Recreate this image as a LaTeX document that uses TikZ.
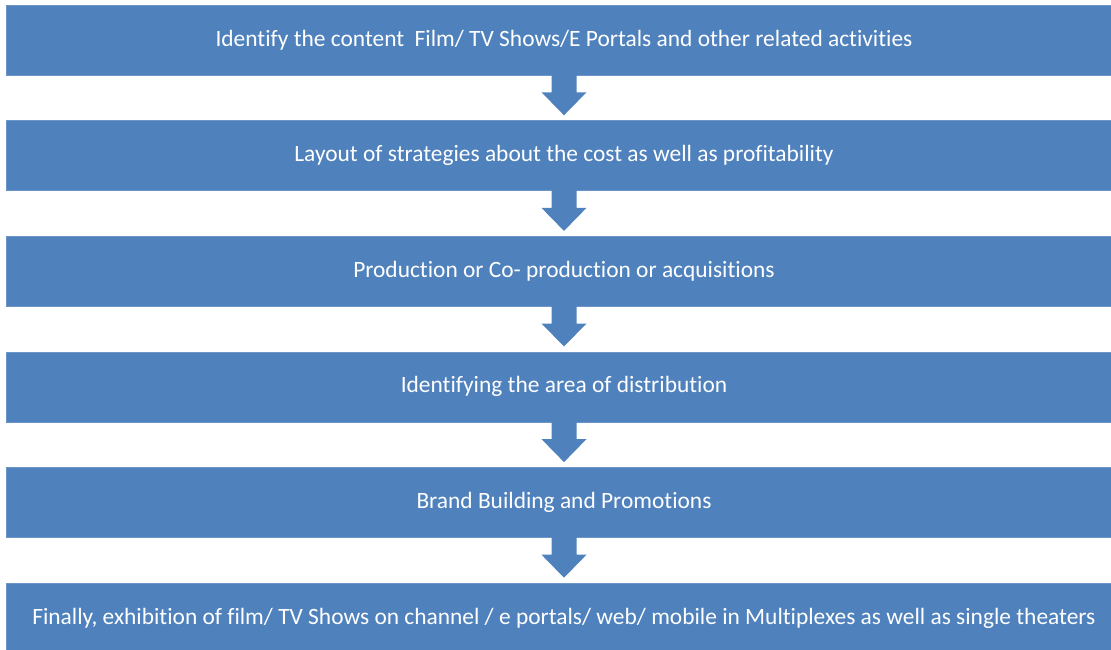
\documentclass[tikz,border=0pt]{standalone}
\usepackage{fontspec}
\setmainfont{Carlito}[Ligatures={NoCommon}]
\usepackage{xcolor}
\usepackage{tikz}
\usetikzlibrary{calc}

\definecolor{stageblue}{HTML}{4F81BD}
\definecolor{stageedge}{HTML}{6D96C8}

\tikzset{
	stagebox/.style = {rectangle, fill = stageblue, draw = stageedge, line width = 0.6bp,
		minimum width = 1116bp, minimum height = 70bp, inner sep = 0pt,
		text = white, font = \fontsize{23.5}{28}\selectfont},
	stagearrow/.style = {fill = stageblue, draw = none}
}

\begin{document}
\begin{tikzpicture}[x = 1bp, y = 1bp]
			\useasboundingbox (0, 0) rectangle (1111, -650);
			\clip (0, 0) rectangle (1111, -650);
			
			\begin{scope}[every node/.style={stagebox}]
			\node (content) at (564, -40) {Identify the content \ Film/ TV Shows/E Portals and other related activities};
			\node (strategy) at (564, -155.6) {Layout of strategies about the cost as well as profitability};
			\node (production) at (564, -271.2) {Production or Co- production or acquisitions};
			\node (distribution) at (564, -386.8) {Identifying the area of distribution};
			\node (promotion) at (564, -502.4) {Brand Building and Promotions};
			\node (exhibition) at (564, -618) {Finally, exhibition of film/ TV Shows on channel / e portals/ web/ mobile in Multiplexes as well as single theaters};
			\end{scope}
			
			\foreach \from/\to in {content/strategy, strategy/production, production/distribution,
				distribution/promotion, promotion/exhibition}
			\fill [stagearrow]
			($(\from.south) + (-12.5, 1)$) --
			($(\from.south) + (-12.5, -17)$) --
			($(\from.south) + (-22.5, -17)$) --
			($(\from.south) + (0, -40)$) --
			($(\from.south) + (22.5, -17)$) --
			($(\from.south) + (12.5, -17)$) --
			($(\from.south) + (12.5, 1)$)
			--cycle;
			
			\end{tikzpicture}
\end{document}
